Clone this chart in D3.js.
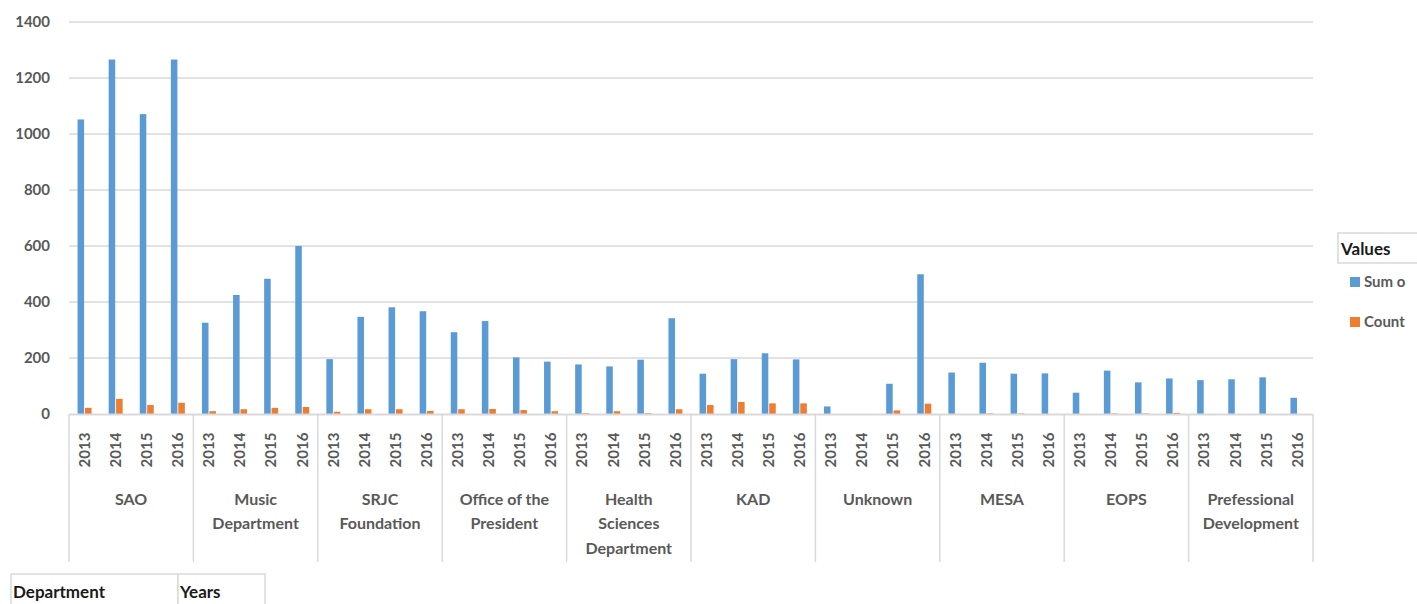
<!DOCTYPE html>
<html>
<head>
<meta charset="utf-8">
<script src="https://cdn.jsdelivr.net/npm/d3@7"></script>
<style>
  html, body { margin: 0; padding: 0; background: #fff; overflow: hidden; }
  svg { display: block; font-family: Lato, "Open Sans", sans-serif; }
</style>
</head>
<body>
<svg id="chart" width="1417" height="604"></svg>
<script>
// Departments (label lines) and years on the two-level category axis
const departments = [
  ["SAO"],
  ["Music", "Department"],
  ["SRJC", "Foundation"],
  ["Office of the", "President"],
  ["Health", "Sciences", "Department"],
  ["KAD"],
  ["Unknown"],
  ["MESA"],
  ["EOPS"],
  ["Prefessional", "Development"]
];
const years = ["2013", "2014", "2015", "2016"];

// Series values, one row per department, one entry per year
const sumValues = [
  [1052, 1266, 1071, 1266],
  [326, 425, 483, 600],
  [196, 347, 381, 367],
  [292, 332, 202, 187],
  [177, 170, 194, 342],
  [144, 196, 217, 195],
  [27, 0, 108, 499],
  [148, 183, 144, 145],
  [76, 155, 113, 127],
  [121, 124, 131, 58]
];
const countValues = [
  [22, 54, 32, 40],
  [10, 17, 22, 25],
  [8, 17, 17, 11],
  [17, 18, 14, 10],
  [3, 10, 3, 17],
  [32, 43, 38, 38],
  [0, 0, 13, 37],
  [0, 2, 2, 0],
  [0, 2, 2, 4],
  [0, 0, 0, 0]
];
// Legend labels as they fit in the narrow legend column
const seriesNames = ["Sum o", "Count"];
const yTicks = [0, 200, 400, 600, 800, 1000, 1200, 1400];

const colors = ["#5B9BD5", "#ED7D31"];
const textGray = "#595959";
const gridGray = "#d9d9d9";

const svg = d3.select("#chart");
const plot = { left: 69, right: 1313, top: 22, bottom: 414 };

// Flattened department/year slots
const slots = [];
departments.forEach((dep, di) => {
  years.forEach((yr, yi) => {
    slots.push({ key: di + "-" + yr, di, yi, year: yr,
      values: [sumValues[di][yi], countValues[di][yi]] });
  });
});

const x0 = d3.scaleBand()
  .domain(slots.map(d => d.key))
  .range([plot.left, plot.right])
  .padding(0);

const x1 = d3.scaleBand()
  .domain([0, 1])
  .range([0, x0.bandwidth()])
  .paddingInner(0.12)
  .paddingOuter(1.15);

const y = d3.scaleLinear()
  .domain([0, 1400])
  .range([plot.bottom, plot.top]);

// Horizontal gridlines
svg.append("g")
  .selectAll("line")
  .data(yTicks.filter(t => t > 0))
  .join("line")
  .attr("x1", plot.left).attr("x2", plot.right)
  .attr("y1", d => y(d)).attr("y2", d => y(d))
  .attr("stroke", gridGray).attr("stroke-width", 1.5);

// Value axis labels
const yAxis = d3.axisLeft(y).tickValues(yTicks).tickSize(0).tickPadding(0).tickFormat(d3.format("d"));
const yg = svg.append("g").attr("transform", "translate(50,0)").call(yAxis);
yg.select(".domain").remove();
yg.selectAll("text")
  .attr("fill", textGray)
  .attr("font-size", 15)
  .attr("font-weight", 700)
  .attr("font-family", "Lato, sans-serif");

// Bars
const slotG = svg.append("g")
  .selectAll("g")
  .data(slots)
  .join("g")
  .attr("transform", d => `translate(${x0(d.key)},0)`);

slotG.selectAll("rect")
  .data(d => d.values.map((v, i) => ({ v, i })))
  .join("rect")
  .attr("x", d => x1(d.i))
  .attr("width", x1.bandwidth())
  .attr("y", d => y(d.v))
  .attr("height", d => y(0) - y(d.v))
  .attr("fill", d => colors[d.i]);

// Baseline
svg.append("line")
  .attr("x1", plot.left).attr("x2", plot.right)
  .attr("y1", y(0) + 0.5).attr("y2", y(0) + 0.5)
  .attr("stroke", gridGray).attr("stroke-width", 2);

// Category axis: year labels, department labels and separators
const xAxis = d3.axisBottom(x0).tickSize(0).tickPadding(0).tickFormat(k => k.split("-")[1]);
const xg = svg.append("g").attr("transform", `translate(0,${plot.bottom})`).call(xAxis);
xg.select(".domain").remove();
xg.selectAll("text")
  .attr("fill", textGray)
  .attr("font-size", 15)
  .attr("font-weight", 700)
  .attr("font-family", "Lato, sans-serif")
  .attr("transform", "translate(0,36) rotate(-90)")
  .attr("dy", "0.35em")
  .attr("text-anchor", "middle")
  .attr("y", 0);

const groupW = x0.bandwidth() * years.length;
const groupX = di => x0(di + "-" + years[0]);

svg.append("g")
  .selectAll("line")
  .data(d3.range(departments.length + 1))
  .join("line")
  .attr("x1", i => i < departments.length ? groupX(i) : plot.right)
  .attr("x2", i => i < departments.length ? groupX(i) : plot.right)
  .attr("y1", plot.bottom).attr("y2", 562)
  .attr("stroke", gridGray).attr("stroke-width", 1.5);

const depG = svg.append("g")
  .selectAll("text")
  .data(departments)
  .join("text")
  .attr("x", (d, i) => groupX(i) + groupW / 2)
  .attr("y", 499)
  .attr("text-anchor", "middle")
  .attr("fill", textGray)
  .attr("font-size", 16)
  .attr("font-weight", 700);
depG.selectAll("tspan")
  .data(d => d)
  .join("tspan")
  .attr("x", function () { return this.parentNode.getAttribute("x"); })
  .attr("dy", (d, i) => i === 0 ? "0.35em" : "24.5")
  .text(d => d);

// Legend
svg.append("rect")
  .attr("x", 1338).attr("y", 233).attr("width", 100).attr("height", 30)
  .attr("fill", "#fff").attr("stroke", gridGray).attr("stroke-width", 1.5);
svg.append("text")
  .attr("x", 1341).attr("y", 249).attr("dy", "0.35em")
  .attr("font-size", 17).attr("font-weight", 700).attr("fill", "#1a1a1a")
  .text("Values");

const legendY = [282, 322];
const lg = svg.append("g")
  .selectAll("g")
  .data(seriesNames)
  .join("g")
  .attr("transform", (d, i) => `translate(1350,${legendY[i]})`);
lg.append("rect")
  .attr("x", 0).attr("y", -5).attr("width", 10).attr("height", 10)
  .attr("fill", (d, i) => colors[i]);
lg.append("text")
  .attr("x", 14).attr("dy", "0.35em")
  .attr("font-size", 15).attr("font-weight", 700).attr("fill", textGray)
  .text(d => d);

// Pivot field buttons
const fields = [{ name: "Department", x: 11, w: 167 }, { name: "Years", x: 178, w: 87 }];
const fg = svg.append("g")
  .selectAll("g")
  .data(fields)
  .join("g");
fg.append("rect")
  .attr("x", d => d.x).attr("y", 574).attr("width", d => d.w).attr("height", 40)
  .attr("fill", "#fff").attr("stroke", gridGray).attr("stroke-width", 1.5);
fg.append("text")
  .attr("x", d => d.x + 2).attr("y", 592).attr("dy", "0.35em")
  .attr("font-size", 17).attr("font-weight", 700).attr("fill", "#1a1a1a")
  .text(d => d.name);
</script>
</body>
</html>
